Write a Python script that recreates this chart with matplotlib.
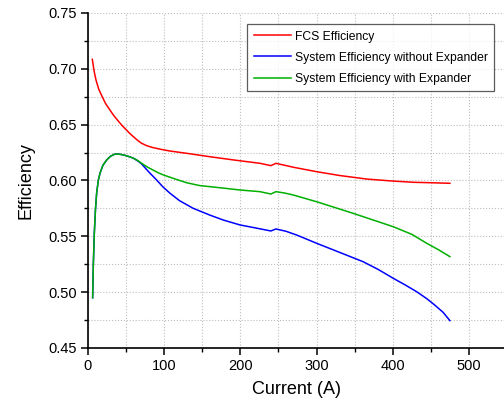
import matplotlib
matplotlib.use("Agg")
import matplotlib.pyplot as plt
from matplotlib.ticker import MultipleLocator

plt.rcParams['font.family'] = ['Liberation Sans', 'DejaVu Sans']

# FCS efficiency
fcs_current = [5.7, 8, 10.5, 14, 18, 23, 28.9, 34, 40, 45, 50.8, 55, 60, 65, 70.4, 77, 85,
               95, 107.6, 130, 160, 190, 225.7, 240, 246.7, 270, 300, 330, 365.7, 400,
               427, 450, 475]
fcs_eff = [0.7085, 0.698, 0.690, 0.682, 0.676, 0.669, 0.663, 0.658, 0.653, 0.649, 0.645,
           0.642, 0.639, 0.636, 0.6333, 0.6312, 0.6295, 0.628, 0.6264, 0.6243, 0.6213,
           0.6185, 0.6154, 0.6133, 0.6154, 0.6118, 0.6079, 0.6045, 0.6013, 0.5995,
           0.5984, 0.5980, 0.5975]

# System efficiency without expander
noexp_current = [6.1, 7, 8.3, 9.8, 11.4, 13.5, 15.7, 19.5, 24.5, 29.5, 35.4, 41, 47, 53,
                 59.5, 65, 70.4, 80, 90, 98, 107.6, 120, 138, 147, 160, 177.6, 199.5,
                 220, 240, 246.7, 260, 273.8, 300, 330, 361, 381, 400.7, 416, 431.4, 445,
                 455, 466, 475]
noexp_eff = [0.495, 0.525, 0.553, 0.574, 0.589, 0.600, 0.6064, 0.6135, 0.6184, 0.6217,
             0.6237, 0.6236, 0.6228, 0.6216, 0.6200, 0.6177, 0.6148, 0.6075, 0.6005,
             0.5945, 0.5886, 0.5820, 0.5751, 0.5726, 0.5690, 0.5646, 0.5602, 0.5575,
             0.5548, 0.5566, 0.5545, 0.5512, 0.5438, 0.5357, 0.5273, 0.5203, 0.5124,
             0.5066, 0.5004, 0.4940, 0.4885, 0.4820, 0.4745]

# System efficiency with expander
exp_current = [6.1, 7, 8.3, 9.8, 11.4, 13.5, 15.7, 19.5, 24.5, 29.5, 35.4, 41, 47, 53,
               59.5, 65, 70.4, 78, 85, 92, 98.8, 115, 129.5, 147, 160, 180, 199.5, 225.7,
               240, 246.7, 258, 269.5, 300, 348, 400.7, 425, 444.5, 460, 475]
exp_eff = [0.495, 0.525, 0.553, 0.574, 0.589, 0.600, 0.6064, 0.6135, 0.6184, 0.6217,
           0.6237, 0.6236, 0.6228, 0.6216, 0.6200, 0.6180, 0.6154, 0.6120, 0.6095,
           0.6070, 0.605, 0.6012, 0.598, 0.5954, 0.5945, 0.5930, 0.5915, 0.5900, 0.5879,
           0.5900, 0.5888, 0.5870, 0.581, 0.5706, 0.5586, 0.5518, 0.5438, 0.5380, 0.5318]

fig = plt.figure(figsize=(5.04, 4.03), dpi=100)
ax = fig.add_axes([88 / 504, 1 - 348 / 403, 1 - 88 / 504, 335 / 403])

ax.plot(fcs_current, fcs_eff, color='#ff0000', lw=1.1, label='FCS Efficiency')
ax.plot(noexp_current, noexp_eff, color='#0000ff', lw=1.1,
        label='System Efficiency without Expander')
ax.plot(exp_current, exp_eff, color='#00b000', lw=1.1,
        label='System Efficiency with Expander')

ax.set_xlim(0, 546)
ax.set_ylim(0.45, 0.75)
ax.xaxis.set_major_locator(MultipleLocator(100))
ax.xaxis.set_minor_locator(MultipleLocator(50))
ax.yaxis.set_major_locator(MultipleLocator(0.05))
ax.yaxis.set_minor_locator(MultipleLocator(0.025))
ax.yaxis.set_major_formatter(plt.FuncFormatter(lambda v, p: f"{v:.2f}"))

ax.grid(which='both', color='#bdbdbd', linestyle=':', linewidth=0.8)
ax.set_axisbelow(True)

for s in ('top', 'right'):
    ax.spines[s].set_visible(False)
for s in ('left', 'bottom'):
    ax.spines[s].set_linewidth(1.2)

ax.tick_params(which='major', direction='out', length=5, width=1.1, labelsize=10.5,
               colors='black', pad=3)
ax.tick_params(which='minor', direction='out', length=3, width=1.0)

ax.set_xlabel('Current (A)', fontsize=13, labelpad=6)
ax.set_ylabel('Efficiency', fontsize=13, labelpad=10)

leg = ax.legend(loc='upper left', bbox_to_anchor=((247 - 88) / 416, 1 - (24 - 13) / 335),
                fontsize=8.7, frameon=True, fancybox=False, edgecolor='#333333',
                handlelength=3.1, borderpad=0.55, labelspacing=0.75, handletextpad=0.3,
                borderaxespad=0)
leg.get_frame().set_linewidth(0.9)

fig.savefig('out.png', dpi=100)
